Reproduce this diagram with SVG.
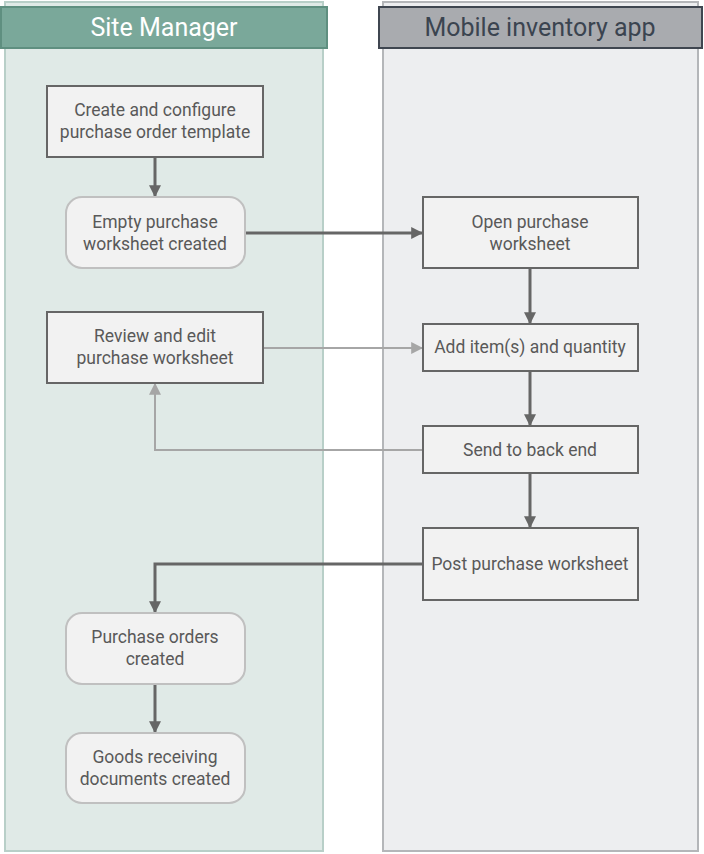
<svg xmlns="http://www.w3.org/2000/svg" width="704" height="854" viewBox="0 0 704 854">
<defs>
<marker id="ad" viewBox="0 0 10 10" refX="9" refY="5" markerWidth="4" markerHeight="4" markerUnits="strokeWidth" orient="auto"><path d="M0,0 L10,5 L0,10 z" fill="#666666"/></marker>
<marker id="al" viewBox="0 0 10 10" refX="9" refY="5" markerWidth="6" markerHeight="6" markerUnits="strokeWidth" orient="auto"><path d="M0,0 L10,5 L0,10 z" fill="#a6a6a6"/></marker>
</defs>
<style>
text{font-family:"Roboto","Liberation Sans",sans-serif;font-size:17.5px;fill:#595959;text-anchor:middle}
.box{fill:#f2f2f2;stroke:#666666;stroke-width:2}
.rbox{fill:#f2f2f2;stroke:#c0c0c0;stroke-width:2}
.dk{stroke:#666666;stroke-width:3;fill:none;marker-end:url(#ad)}
.lt{stroke:#a6a6a6;stroke-width:2;fill:none;marker-end:url(#al)}
</style>
<g id="lane-site">
<rect x="5" y="2" width="318" height="849" fill="#e0eae7" stroke="#b8cfc8" stroke-width="2"/>
<rect x="1" y="7" width="326" height="41" fill="#7aa89a" stroke="#5f8f80" stroke-width="2"/>
<text x="164" y="36" style="font-size:25px;fill:#ffffff">Site Manager</text>
</g>
<g id="lane-mobile">
<rect x="383" y="2" width="315" height="849" fill="#edeef0" stroke="#b4b6b9" stroke-width="2"/>
<rect x="379" y="7" width="323" height="41" fill="#a9abaf" stroke="#3f4650" stroke-width="2"/>
<text x="540" y="36" style="font-size:25px;fill:#3b4450">Mobile inventory app</text>
</g>
<g id="connectors">
<path class="dk" d="M155,157 V196"/>
<path class="dk" d="M245,233 H422"/>
<path class="dk" d="M530,268 V323"/>
<path class="lt" d="M263,348 H422"/>
<path class="dk" d="M530,371 V425"/>
<path class="lt" d="M423,450 H155 V384"/>
<path class="dk" d="M530,473 V527"/>
<path class="dk" d="M423,564 H155 V612"/>
<path class="dk" d="M155,684 V732"/>
</g>
<g id="n1"><rect class="box" x="47" y="86" width="216" height="71"/><text x="155" y="116">Create and configure</text><text x="155" y="138">purchase order template</text></g>
<g id="n2"><rect class="rbox" x="66" y="197" width="179" height="71" rx="16"/><text x="155" y="228">Empty purchase</text><text x="155" y="250">worksheet created</text></g>
<g id="n3"><rect class="box" x="423" y="197" width="215" height="71"/><text x="530" y="228">Open purchase</text><text x="530" y="250">worksheet</text></g>
<g id="n4"><rect class="box" x="47" y="312" width="216" height="71"/><text x="155" y="342">Review and edit</text><text x="155" y="364">purchase worksheet</text></g>
<g id="n5"><rect class="box" x="423" y="324" width="215" height="47"/><text x="530" y="353">Add item(s) and quantity</text></g>
<g id="n6"><rect class="box" x="423" y="426" width="215" height="47"/><text x="530" y="456">Send to back end</text></g>
<g id="n7"><rect class="box" x="423" y="528" width="215" height="72"/><text x="530" y="570">Post purchase worksheet</text></g>
<g id="n8"><rect class="rbox" x="66" y="613" width="179" height="71" rx="16"/><text x="155" y="643">Purchase orders</text><text x="155" y="665">created</text></g>
<g id="n9"><rect class="rbox" x="66" y="733" width="179" height="70" rx="16"/><text x="155" y="763">Goods receiving</text><text x="155" y="785">documents created</text></g>
</svg>
